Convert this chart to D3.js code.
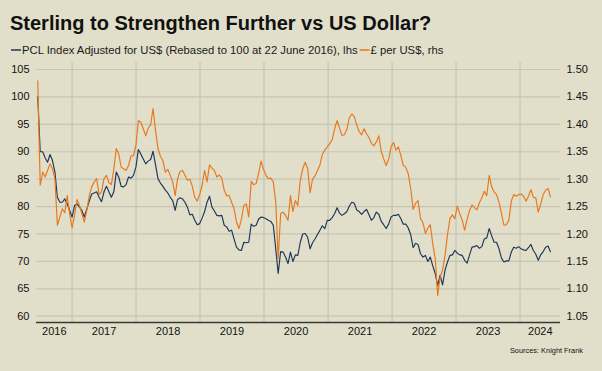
<!DOCTYPE html>
<html>
<head>
<meta charset="utf-8">
<script src="https://cdn.jsdelivr.net/npm/d3@7"></script>
<style>
  html, body { margin: 0; padding: 0; background: #e1dfc9; }
  svg { display: block; font-family: "Liberation Sans", Arial, sans-serif; }
</style>
</head>
<body>
<svg id="chart" width="602" height="371"></svg>
<script>
// fortnightly readings, first one on 22 June 2016
const startDate = "2016-06-22";
const stepDays = 14;

// PCL Index Adjusted for US$ (rebased to 100 at 22 June 2016), lhs
const pclUsd = [
  100.0, 89.9, 89.9, 88.8, 88.0, 89.4, 88.3, 86.2, 81.6, 80.7,
  80.7, 81.3, 80.4, 79.2, 78.0, 80.1, 80.4, 79.8, 79.2, 78.0,
  79.5, 80.9, 82.2, 82.4, 82.6, 81.6, 80.8, 82.6, 83.6, 82.6,
  81.6, 82.6, 86.2, 85.3, 83.6, 83.5, 83.9, 85.3, 85.1, 85.6,
  87.1, 90.3, 89.5, 88.6, 87.7, 88.2, 88.5, 90.0, 87.5, 85.0,
  84.2, 83.6, 82.9, 82.4, 81.6, 81.0, 79.2, 81.2, 81.5, 81.3,
  80.7, 79.8, 78.4, 78.5, 77.4, 76.6, 76.8, 77.8, 79.0, 80.7,
  81.8, 79.8, 79.1, 78.3, 78.2, 78.3, 76.5, 76.2, 75.4, 75.6,
  74.0, 72.5, 72.0, 71.9, 73.4, 73.3, 73.4, 76.7, 76.3, 76.5,
  77.6, 78.0, 77.9, 77.7, 77.4, 77.2, 76.5, 72.2, 67.7, 71.7,
  71.6, 70.7, 69.5, 71.6, 69.9, 71.1, 71.0, 73.4, 74.9, 75.0,
  74.3, 72.2, 73.3, 74.0, 74.8, 75.6, 76.4, 75.9, 77.4, 77.4,
  77.9, 78.6, 79.7, 78.7, 78.3, 78.6, 79.0, 80.0, 80.7, 80.5,
  79.3, 79.0, 78.5, 79.0, 79.4, 78.4, 77.4, 77.9, 78.9, 78.5,
  77.2, 76.6, 75.9, 76.7, 78.0, 78.3, 78.3, 78.5, 77.7, 76.7,
  76.7, 76.0, 74.8, 72.4, 73.2, 73.0, 71.3, 70.7, 71.0, 69.9,
  70.7, 69.1, 67.7, 65.5, 67.4, 65.6, 68.3, 69.8, 71.0, 71.1,
  71.9, 71.4, 71.1, 71.0, 70.1, 69.6, 71.1, 72.5, 72.6, 72.8,
  72.3, 72.6, 74.0, 74.2, 75.9, 74.6, 73.4, 73.4, 72.2, 70.5,
  69.8, 70.0, 70.0, 71.6, 72.5, 72.3, 72.6, 72.2, 72.0, 71.9,
  72.4, 73.0, 71.9, 71.2, 70.1, 71.1, 71.7, 72.5, 72.7, 71.6
];

// £ per US$, rhs
const gbpUsd = [
  1.479, 1.288, 1.312, 1.303, 1.315, 1.327, 1.318, 1.300, 1.215, 1.230,
  1.245, 1.238, 1.269, 1.236, 1.210, 1.233, 1.262, 1.251, 1.236, 1.221,
  1.242, 1.269, 1.285, 1.294, 1.300, 1.271, 1.276, 1.300, 1.306, 1.293,
  1.289, 1.317, 1.355, 1.345, 1.321, 1.318, 1.315, 1.324, 1.341, 1.342,
  1.360, 1.406, 1.403, 1.391, 1.378, 1.392, 1.398, 1.428, 1.388, 1.355,
  1.341, 1.333, 1.312, 1.317, 1.306, 1.294, 1.269, 1.300, 1.313, 1.315,
  1.306, 1.297, 1.299, 1.286, 1.266, 1.259, 1.271, 1.288, 1.315, 1.294,
  1.325, 1.319, 1.315, 1.303, 1.307, 1.301, 1.279, 1.269, 1.269, 1.257,
  1.245, 1.221, 1.209, 1.226, 1.251, 1.254, 1.230, 1.295, 1.289, 1.291,
  1.309, 1.332, 1.317, 1.306, 1.300, 1.301, 1.294, 1.257, 1.154, 1.236,
  1.239, 1.233, 1.224, 1.269, 1.240, 1.260, 1.251, 1.297, 1.318, 1.330,
  1.318, 1.274, 1.299, 1.305, 1.315, 1.325, 1.344, 1.352, 1.358, 1.364,
  1.371, 1.391, 1.406, 1.392, 1.379, 1.380, 1.390, 1.411, 1.418, 1.413,
  1.398, 1.386, 1.380, 1.391, 1.382, 1.375, 1.364, 1.360, 1.367, 1.378,
  1.350, 1.336, 1.324, 1.335, 1.358, 1.366, 1.352, 1.358, 1.342, 1.324,
  1.321, 1.309, 1.282, 1.244, 1.255, 1.260, 1.227, 1.220, 1.200, 1.210,
  1.216, 1.181, 1.154, 1.087, 1.120, 1.133, 1.160, 1.198, 1.227, 1.234,
  1.227, 1.250, 1.236, 1.224, 1.206, 1.226, 1.242, 1.252, 1.247, 1.243,
  1.256, 1.265, 1.277, 1.269, 1.306, 1.285, 1.276, 1.271, 1.257, 1.236,
  1.215, 1.216, 1.224, 1.259, 1.271, 1.268, 1.271, 1.272, 1.268, 1.259,
  1.268, 1.280, 1.266, 1.265, 1.239, 1.254, 1.271, 1.279, 1.282, 1.266
];

const leftTicks = [60, 65, 70, 75, 80, 85, 90, 95, 100, 105];
const rightTicks = [1.05, 1.10, 1.15, 1.20, 1.25, 1.30, 1.35, 1.40, 1.45, 1.50];
const years = [2016, 2017, 2018, 2019, 2020, 2021, 2022, 2023, 2024];

const title = "Sterling to Strengthen Further vs US Dollar?";
const legendItems = ["PCL Index Adjusted for US$ (Rebased to 100 at 22 June 2016), lhs", "£ per US$, rhs"];
const source = "Sources: Knight Frank";

const navy = "#1d355c";
const orange = "#e8771c";
const gridColor = "#c6c4b3";

const svg = d3.select("#chart");
const plotLeft = 36, plotRight = 560, plotTop = 62, plotBottom = 322.5;

const parse = d3.timeParse("%Y-%m-%d");
const dates = pclUsd.map((d, i) => d3.timeDay.offset(parse(startDate), i * stepDays));

const xStart = new Date(2016, 5, 12), xEnd = new Date(2024, 7, 19);
const x = d3.scaleTime().domain([xStart, xEnd]).range([plotLeft, plotRight]);
const yL = d3.scaleLinear().domain([58.76, 106.28]).range([plotBottom, plotTop]);
const yR = d3.scaleLinear().domain([1.0376, 1.5128]).range([plotBottom, plotTop]);

svg.append("rect").attr("width", 602).attr("height", 371).attr("fill", "#e1dfc9");

// horizontal grid
svg.append("g")
    .attr("transform", `translate(${plotLeft},0)`)
    .call(d3.axisLeft(yL).tickValues(leftTicks).tickSize(-(plotRight - plotLeft)).tickFormat(""))
    .call(g => g.select(".domain").remove())
    .call(g => g.selectAll(".tick line").attr("stroke", gridColor).attr("stroke-width", 1.2));

// vertical grid at year starts
const yearStarts = years.slice(1).map(y => new Date(y, 0, 1));
svg.append("g")
    .attr("transform", `translate(0,${plotBottom})`)
    .call(d3.axisBottom(x).tickValues(yearStarts).tickSize(-(plotBottom - plotTop)).tickFormat(""))
    .call(g => g.select(".domain").remove())
    .call(g => g.selectAll(".tick line").attr("stroke", gridColor).attr("stroke-width", 1.2));

// lines
const lineL = d3.line().x((d, i) => x(dates[i])).y(d => yL(d));
const lineR = d3.line().x((d, i) => x(dates[i])).y(d => yR(d));

svg.append("path")
    .datum(pclUsd)
    .attr("fill", "none")
    .attr("stroke", navy)
    .attr("stroke-width", 1.15)
    .attr("stroke-linejoin", "round")
    .attr("d", lineL);

svg.append("path")
    .datum(gbpUsd)
    .attr("fill", "none")
    .attr("stroke", orange)
    .attr("stroke-width", 1.15)
    .attr("stroke-linejoin", "round")
    .attr("d", lineR);

// axes
svg.append("g")
    .attr("transform", `translate(${plotLeft},0)`)
    .call(d3.axisLeft(yL).tickValues(leftTicks).tickSize(0).tickPadding(6.5))
    .call(g => g.select(".domain").remove())
    .call(g => g.selectAll("text").attr("font-size", 11).attr("fill", "#111"))
    .attr("font-family", null);

svg.append("g")
    .attr("transform", `translate(${plotRight},0)`)
    .call(d3.axisRight(yR).tickValues(rightTicks).tickSize(0).tickPadding(6.5).tickFormat(d3.format(".2f")))
    .call(g => g.select(".domain").remove())
    .call(g => g.selectAll("text").attr("font-size", 11).attr("fill", "#111"))
    .attr("font-family", null);

// year labels centred in each year's span
const yearMids = years.map(y => {
  const a = Math.max(+new Date(y, 0, 1), +xStart);
  const b = Math.min(+new Date(y + 1, 0, 1), +xEnd);
  return new Date((a + b) / 2);
});
svg.append("g")
    .attr("transform", `translate(0,${plotBottom})`)
    .call(d3.axisBottom(x).tickValues(yearMids).tickSize(0).tickPadding(5).tickFormat(d3.timeFormat("%Y")))
    .call(g => g.select(".domain").remove())
    .call(g => g.selectAll("text").attr("font-size", 11).attr("fill", "#111"))
    .attr("font-family", null);

svg.append("line")
    .attr("x1", plotLeft).attr("x2", plotRight)
    .attr("y1", plotBottom).attr("y2", plotBottom)
    .attr("stroke", "#3a3a34")
    .attr("stroke-width", 1.6);

// title & legend
svg.append("text")
    .attr("x", 10).attr("y", 30)
    .attr("font-size", 20).attr("font-weight", "bold").attr("fill", "#111")
    .text(title);

let lx = 11;
const ly = 54;
[navy, orange].forEach((c, i) => {
  svg.append("line")
      .attr("x1", lx).attr("x2", lx + 10)
      .attr("y1", ly - 4).attr("y2", ly - 4)
      .attr("stroke", c).attr("stroke-width", 1.5);
  const t = svg.append("text")
      .attr("x", lx + 11).attr("y", ly)
      .attr("font-size", 11.3).attr("fill", "#1a1a1a")
      .text(legendItems[i]);
  lx += 11 + t.node().getComputedTextLength() + 2;
});

svg.append("text")
    .attr("x", 583).attr("y", 353)
    .attr("text-anchor", "end")
    .attr("font-size", 7.4).attr("fill", "#111")
    .text(source);
</script>
</body>
</html>
